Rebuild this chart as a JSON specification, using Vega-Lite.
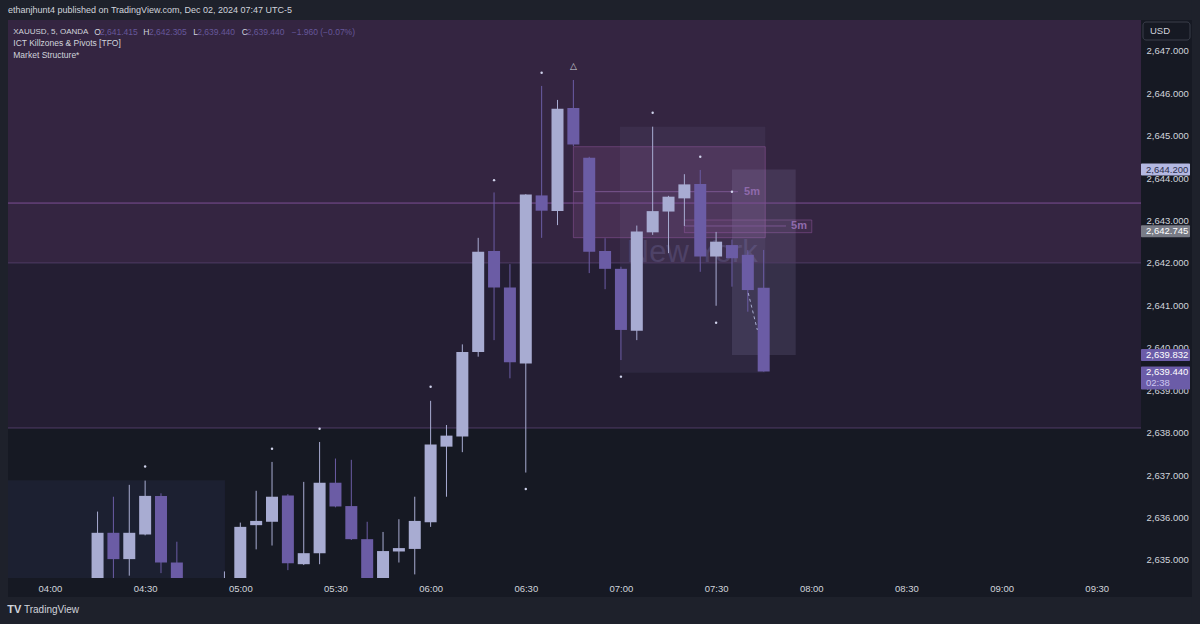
{
  "$schema": "https://vega.github.io/schema/vega-lite/v6.json",
  "width": 1133,
  "height": 558,
  "autosize": "none",
  "padding": {"left": 8, "top": 20, "right": 59, "bottom": 46},
  "background": "#161923",
  "config": {"view": {"stroke": null}, "font": "Liberation Sans"},
  "datasets": {
    "frame": [
      {"t1": "2024-12-02T03:40:00Z", "t2": "2024-12-02T10:10:00Z", "p1": 2647.7234, "p2": 2649.0},
      {"t1": "2024-12-02T03:40:00Z", "t2": "2024-12-02T10:10:00Z", "p1": 2633.0, "p2": 2634.128},
      {"t1": "2024-12-02T03:40:00Z", "t2": "2024-12-02T03:46:46Z", "p1": 2633.0, "p2": 2649.0},
      {"t1": "2024-12-02T10:00:00Z", "t2": "2024-12-02T10:10:00Z", "p1": 2633.0, "p2": 2649.0}
    ],
    "regions": [
      {"name": "upper", "p1": 2642.0, "p2": 2649.0},
      {"name": "mid", "p1": 2638.11, "p2": 2642.0}
    ],
    "boxes": [
      {"name": "asia", "t1": "2024-12-02T03:30:00Z", "t2": "2024-12-02T04:55:10Z", "p1": 2630.0, "p2": 2636.88},
      {"name": "ny", "t1": "2024-12-02T06:59:42Z", "t2": "2024-12-02T07:45:30Z", "p1": 2639.41, "p2": 2645.21},
      {"name": "pink", "t1": "2024-12-02T06:45:00Z", "t2": "2024-12-02T07:45:30Z", "p1": 2642.594, "p2": 2644.738},
      {"name": "fvg", "t1": "2024-12-02T07:20:00Z", "t2": "2024-12-02T08:00:10Z", "p1": 2642.712, "p2": 2643.011},
      {"name": "grey", "t1": "2024-12-02T07:35:00Z", "t2": "2024-12-02T07:55:05Z", "p1": 2639.832, "p2": 2644.2}
    ],
    "hlines": [
      {"name": "pivot", "p": 2643.41},
      {"name": "edge", "p": 2642.0},
      {"name": "edge", "p": 2638.11}
    ],
    "segments": [
      {"t1": "2024-12-02T06:45:00Z", "t2": "2024-12-02T07:36:54Z", "p": 2643.678},
      {"t1": "2024-12-02T07:20:00Z", "t2": "2024-12-02T07:52:02Z", "p": 2642.87}
    ],
    "seglabels": [
      {"t": "2024-12-02T07:41:19Z", "p": 2643.678, "text": "5m"},
      {"t": "2024-12-02T07:56:08Z", "p": 2642.87, "text": "5m"}
    ],
    "candles": [
      {"t": "2024-12-02T04:15:00Z", "o": 2634.40, "h": 2636.14, "l": 2634.30, "c": 2635.64},
      {"t": "2024-12-02T04:20:00Z", "o": 2635.64, "h": 2636.49, "l": 2634.55, "c": 2635.02},
      {"t": "2024-12-02T04:25:00Z", "o": 2635.02, "h": 2636.77, "l": 2634.63, "c": 2635.64},
      {"t": "2024-12-02T04:30:00Z", "o": 2635.60, "h": 2636.87, "l": 2635.58, "c": 2636.51},
      {"t": "2024-12-02T04:35:00Z", "o": 2636.51, "h": 2636.57, "l": 2634.69, "c": 2634.94},
      {"t": "2024-12-02T04:40:00Z", "o": 2634.94, "h": 2635.43, "l": 2634.20, "c": 2634.30},
      {"t": "2024-12-02T04:45:00Z", "o": 2634.30, "h": 2634.45, "l": 2633.60, "c": 2633.80},
      {"t": "2024-12-02T04:50:00Z", "o": 2633.80, "h": 2634.40, "l": 2633.50, "c": 2634.20},
      {"t": "2024-12-02T04:55:00Z", "o": 2634.20, "h": 2634.73, "l": 2634.00, "c": 2634.40},
      {"t": "2024-12-02T05:00:00Z", "o": 2634.40, "h": 2635.88, "l": 2634.30, "c": 2635.78},
      {"t": "2024-12-02T05:05:00Z", "o": 2635.82, "h": 2636.63, "l": 2635.25, "c": 2635.92},
      {"t": "2024-12-02T05:10:00Z", "o": 2635.90, "h": 2637.31, "l": 2635.34, "c": 2636.49},
      {"t": "2024-12-02T05:15:00Z", "o": 2636.52, "h": 2636.55, "l": 2634.76, "c": 2634.92},
      {"t": "2024-12-02T05:20:00Z", "o": 2634.90, "h": 2636.84, "l": 2634.88, "c": 2635.16},
      {"t": "2024-12-02T05:25:00Z", "o": 2635.16, "h": 2637.78, "l": 2634.90, "c": 2636.82},
      {"t": "2024-12-02T05:30:00Z", "o": 2636.82, "h": 2637.39, "l": 2636.24, "c": 2636.26},
      {"t": "2024-12-02T05:35:00Z", "o": 2636.27, "h": 2637.36, "l": 2635.47, "c": 2635.49},
      {"t": "2024-12-02T05:40:00Z", "o": 2635.49, "h": 2635.90, "l": 2634.40, "c": 2634.50},
      {"t": "2024-12-02T05:45:00Z", "o": 2634.50, "h": 2635.66, "l": 2634.40, "c": 2635.21},
      {"t": "2024-12-02T05:50:00Z", "o": 2635.20, "h": 2635.96, "l": 2634.94, "c": 2635.28},
      {"t": "2024-12-02T05:55:00Z", "o": 2635.26, "h": 2636.49, "l": 2634.66, "c": 2635.92},
      {"t": "2024-12-02T06:00:00Z", "o": 2635.89, "h": 2638.75, "l": 2635.78, "c": 2637.72},
      {"t": "2024-12-02T06:05:00Z", "o": 2637.67, "h": 2638.18, "l": 2636.49, "c": 2637.93},
      {"t": "2024-12-02T06:10:00Z", "o": 2637.91, "h": 2640.08, "l": 2637.54, "c": 2639.90},
      {"t": "2024-12-02T06:15:00Z", "o": 2639.90, "h": 2642.59, "l": 2639.79, "c": 2642.26},
      {"t": "2024-12-02T06:20:00Z", "o": 2642.28, "h": 2643.66, "l": 2640.18, "c": 2641.42},
      {"t": "2024-12-02T06:25:00Z", "o": 2641.42, "h": 2641.97, "l": 2639.28, "c": 2639.66},
      {"t": "2024-12-02T06:30:00Z", "o": 2639.63, "h": 2643.62, "l": 2637.06, "c": 2643.61},
      {"t": "2024-12-02T06:35:00Z", "o": 2643.59, "h": 2646.17, "l": 2642.59, "c": 2643.23},
      {"t": "2024-12-02T06:40:00Z", "o": 2643.22, "h": 2645.84, "l": 2642.89, "c": 2645.63},
      {"t": "2024-12-02T06:45:00Z", "o": 2645.65, "h": 2646.31, "l": 2644.75, "c": 2644.79},
      {"t": "2024-12-02T06:50:00Z", "o": 2644.48, "h": 2644.50, "l": 2641.76, "c": 2642.26},
      {"t": "2024-12-02T06:55:00Z", "o": 2642.28, "h": 2642.58, "l": 2641.38, "c": 2641.86},
      {"t": "2024-12-02T07:00:00Z", "o": 2641.86, "h": 2641.91, "l": 2639.71, "c": 2640.42},
      {"t": "2024-12-02T07:05:00Z", "o": 2640.40, "h": 2642.88, "l": 2640.18, "c": 2642.74},
      {"t": "2024-12-02T07:10:00Z", "o": 2642.72, "h": 2645.21, "l": 2642.66, "c": 2643.22},
      {"t": "2024-12-02T07:15:00Z", "o": 2643.21, "h": 2643.58, "l": 2642.23, "c": 2643.56},
      {"t": "2024-12-02T07:20:00Z", "o": 2643.52, "h": 2644.09, "l": 2642.87, "c": 2643.85},
      {"t": "2024-12-02T07:25:00Z", "o": 2643.86, "h": 2644.19, "l": 2641.79, "c": 2642.15},
      {"t": "2024-12-02T07:30:00Z", "o": 2642.15, "h": 2642.73, "l": 2640.99, "c": 2642.50},
      {"t": "2024-12-02T07:35:00Z", "o": 2642.42, "h": 2642.55, "l": 2641.44, "c": 2642.11},
      {"t": "2024-12-02T07:40:00Z", "o": 2642.19, "h": 2642.30, "l": 2640.85, "c": 2641.36},
      {"t": "2024-12-02T07:45:00Z", "o": 2641.415, "h": 2642.305, "l": 2639.44, "c": 2639.44}
    ],
    "pivots": [
      {"t": "2024-12-02T04:30:00Z", "p": 2637.20},
      {"t": "2024-12-02T05:10:00Z", "p": 2637.62},
      {"t": "2024-12-02T05:25:00Z", "p": 2638.09},
      {"t": "2024-12-02T06:00:00Z", "p": 2639.08},
      {"t": "2024-12-02T06:20:00Z", "p": 2643.95},
      {"t": "2024-12-02T06:30:00Z", "p": 2636.67},
      {"t": "2024-12-02T06:35:00Z", "p": 2646.48},
      {"t": "2024-12-02T07:00:00Z", "p": 2639.32},
      {"t": "2024-12-02T07:10:00Z", "p": 2645.54},
      {"t": "2024-12-02T07:25:00Z", "p": 2644.50},
      {"t": "2024-12-02T07:30:00Z", "p": 2640.59},
      {"t": "2024-12-02T07:35:00Z", "p": 2643.678}
    ],
    "ms": [
      {"t1": "2024-12-02T07:40:08Z", "t2": "2024-12-02T07:43:00Z", "p1": 2641.29, "p2": 2640.42}
    ],
    "tags": [
      {"kind": "hi", "p": 2644.2},
      {"kind": "grey", "p": 2642.745},
      {"kind": "purple", "p": 2639.832},
      {"kind": "last", "p": 2639.29}
    ],
    "tagtexts": [
      {"kind": "hi", "p": 2644.2, "text": "2,644.200"},
      {"kind": "white", "p": 2642.745, "text": "2,642.745"},
      {"kind": "white", "p": 2639.832, "text": "2,639.832"},
      {"kind": "white", "p": 2639.418, "text": "2,639.440"},
      {"kind": "dim", "p": 2639.159, "text": "02:38"}
    ],
    "notes": [
      {"t": "2024-12-02T03:46:46Z", "p": 2647.959, "text": "ethanjhunt4 published on TradingView.com, Dec 02, 2024 07:47 UTC-5", "kind": "hdr"},
      {"t": "2024-12-02T03:48:26Z", "p": 2647.448, "text": "XAUUSD, 5, OANDA", "kind": "sym"},
      {"t": "2024-12-02T04:13:58Z", "p": 2647.448, "text": "O", "kind": "name"},
      {"t": "2024-12-02T04:15:46Z", "p": 2647.448, "text": "2,641.415", "kind": "val"},
      {"t": "2024-12-02T04:29:25Z", "p": 2647.448, "text": "H", "kind": "name"},
      {"t": "2024-12-02T04:31:13Z", "p": 2647.448, "text": "2,642.305", "kind": "val"},
      {"t": "2024-12-02T04:45:11Z", "p": 2647.448, "text": "L", "kind": "name"},
      {"t": "2024-12-02T04:46:26Z", "p": 2647.448, "text": "2,639.440", "kind": "val"},
      {"t": "2024-12-02T05:00:26Z", "p": 2647.448, "text": "C", "kind": "name"},
      {"t": "2024-12-02T05:02:01Z", "p": 2647.448, "text": "2,639.440", "kind": "val"},
      {"t": "2024-12-02T05:16:12Z", "p": 2647.448, "text": "−1.960 (−0.07%)", "kind": "val"},
      {"t": "2024-12-02T03:48:26Z", "p": 2647.174, "text": "ICT Killzones & Pivots [TFO]", "kind": "name"},
      {"t": "2024-12-02T03:48:26Z", "p": 2646.899, "text": "Market Structure*", "kind": "name"}
    ]
  },
  "layer": [
    {
      "data": {"name": "frame"},
      "mark": {"type": "rect", "clip": false, "color": "#1e212b"},
      "encoding": {
        "x": {
          "field": "t1", "type": "temporal",
          "scale": {"type": "utc", "domain": [
            {"year": 2024, "month": 12, "date": 2, "hours": 3, "minutes": 46, "seconds": 46, "utc": true},
            {"year": 2024, "month": 12, "date": 2, "hours": 9, "minutes": 43, "seconds": 57, "utc": true}
          ], "nice": false, "padding": 0},
          "axis": {
            "title": null, "format": "%H:%M", "grid": false, "domain": false, "ticks": false, "tickSize": 0,
            "labelPadding": 5, "labelBaseline": "top", "labelFontSize": 9.5, "labelColor": "#d1d4dc",
            "labelFont": "Liberation Sans", "labelFlush": false, "labelOverlap": false,
            "values": [
              {"year": 2024, "month": 12, "date": 2, "hours": 4, "minutes": 0, "utc": true},
              {"year": 2024, "month": 12, "date": 2, "hours": 4, "minutes": 30, "utc": true},
              {"year": 2024, "month": 12, "date": 2, "hours": 5, "minutes": 0, "utc": true},
              {"year": 2024, "month": 12, "date": 2, "hours": 5, "minutes": 30, "utc": true},
              {"year": 2024, "month": 12, "date": 2, "hours": 6, "minutes": 0, "utc": true},
              {"year": 2024, "month": 12, "date": 2, "hours": 6, "minutes": 30, "utc": true},
              {"year": 2024, "month": 12, "date": 2, "hours": 7, "minutes": 0, "utc": true},
              {"year": 2024, "month": 12, "date": 2, "hours": 7, "minutes": 30, "utc": true},
              {"year": 2024, "month": 12, "date": 2, "hours": 8, "minutes": 0, "utc": true},
              {"year": 2024, "month": 12, "date": 2, "hours": 8, "minutes": 30, "utc": true},
              {"year": 2024, "month": 12, "date": 2, "hours": 9, "minutes": 0, "utc": true},
              {"year": 2024, "month": 12, "date": 2, "hours": 9, "minutes": 30, "utc": true}
            ]
          }
        },
        "x2": {"field": "t2"},
        "y": {
          "field": "p1", "type": "quantitative",
          "scale": {"domain": [2634.575, 2647.7234], "zero": false, "nice": false, "padding": 0},
          "axis": {
            "orient": "right", "title": null, "format": ",.3f", "grid": false, "domain": false, "ticks": false, "tickSize": 0,
            "labelPadding": 5, "labelFontSize": 9.5, "labelColor": "#d1d4dc", "labelFont": "Liberation Sans",
            "labelFlush": false, "labelOverlap": false,
            "values": [2635, 2636, 2637, 2638, 2639, 2640, 2641, 2642, 2643, 2644, 2645, 2646, 2647]
          }
        },
        "y2": {"field": "p2"}
      }
    },
    {
      "data": {"name": "regions"},
      "mark": {"type": "rect", "clip": true},
      "encoding": {
        "y": {"field": "p1", "type": "quantitative"},
        "y2": {"field": "p2"},
        "color": {"condition": {"test": "datum.name === 'upper'", "value": "#342541"}, "value": "#241e33"}
      }
    },
    {
      "data": {"name": "boxes"},
      "mark": {"type": "rect", "clip": true, "strokeWidth": 1},
      "encoding": {
        "x": {"field": "t1", "type": "temporal"},
        "x2": {"field": "t2"},
        "y": {"field": "p1", "type": "quantitative"},
        "y2": {"field": "p2"},
        "fill": {"condition": [
          {"test": "datum.name === 'asia'", "value": "#1c2031"},
          {"test": "datum.name === 'ny'", "value": "#a09cd8"},
          {"test": "datum.name === 'grey'", "value": "#aaa6d4"}
        ], "value": "#c070c0"},
        "fillOpacity": {"condition": [
          {"test": "datum.name === 'asia'", "value": 1},
          {"test": "datum.name === 'ny'", "value": 0.08},
          {"test": "datum.name === 'grey'", "value": 0.14},
          {"test": "datum.name === 'fvg'", "value": 0.08}
        ], "value": 0.14},
        "stroke": {"condition": [
          {"test": "datum.name === 'pink' || datum.name === 'fvg'", "value": "#9a5aa6"}
        ], "value": null},
        "strokeOpacity": {"value": 0.45}
      }
    },
    {
      "data": {"values": [{"label": "New York"}]},
      "mark": {"type": "text", "clip": true, "align": "center", "baseline": "alphabetic", "fontSize": 31, "color": "#8d88c8", "opacity": 0.22, "font": "Liberation Sans"},
      "encoding": {
        "x": {"datum": {"year": 2024, "month": 12, "date": 2, "hours": 7, "minutes": 22, "seconds": 30, "utc": true}, "type": "temporal"},
        "y": {"datum": 2642.021, "type": "quantitative"},
        "text": {"field": "label"}
      }
    },
    {
      "data": {"name": "hlines"},
      "mark": {"type": "rule", "clip": true, "strokeWidth": 1},
      "encoding": {
        "y": {"field": "p", "type": "quantitative"},
        "color": {"condition": {"test": "datum.name === 'pivot'", "value": "#7d4f95"}, "value": "#4e3b64"}
      }
    },
    {
      "data": {"name": "segments"},
      "mark": {"type": "rule", "clip": true, "strokeWidth": 1, "color": "#7a5690"},
      "encoding": {
        "x": {"field": "t1", "type": "temporal"},
        "x2": {"field": "t2"},
        "y": {"field": "p", "type": "quantitative"}
      }
    },
    {
      "data": {"name": "seglabels"},
      "mark": {"type": "text", "clip": true, "align": "center", "baseline": "middle", "fontSize": 11, "fontWeight": "bold", "color": "#8f6aab", "font": "Liberation Sans"},
      "encoding": {
        "x": {"field": "t", "type": "temporal"},
        "y": {"field": "p", "type": "quantitative"},
        "text": {"field": "text"}
      }
    },
    {
      "data": {"name": "candles"},
      "mark": {"type": "rule", "clip": true, "strokeWidth": 1},
      "encoding": {
        "x": {"field": "t", "type": "temporal"},
        "y": {"field": "l", "type": "quantitative"},
        "y2": {"field": "h"},
        "color": {"condition": {"test": "datum.c >= datum.o", "value": "#a8acd2"}, "value": "#6b5ca5"}
      }
    },
    {
      "data": {"name": "candles"},
      "mark": {"type": "bar", "clip": true, "size": 12},
      "encoding": {
        "x": {"field": "t", "type": "temporal"},
        "y": {"field": "o", "type": "quantitative"},
        "y2": {"field": "c"},
        "color": {"condition": {"test": "datum.c >= datum.o", "value": "#a8acd2"}, "value": "#6b5ca5"}
      }
    },
    {
      "data": {"name": "ms"},
      "mark": {"type": "rule", "clip": true, "strokeWidth": 1, "strokeDash": [3, 3], "color": "#a8acd2"},
      "encoding": {
        "x": {"field": "t1", "type": "temporal"},
        "x2": {"field": "t2"},
        "y": {"field": "p1", "type": "quantitative"},
        "y2": {"field": "p2"}
      }
    },
    {
      "data": {"name": "pivots"},
      "mark": {"type": "point", "clip": true, "shape": "circle", "filled": true, "size": 6, "color": "#cfd2ea", "opacity": 1},
      "encoding": {
        "x": {"field": "t", "type": "temporal"},
        "y": {"field": "p", "type": "quantitative"}
      }
    },
    {
      "data": {"values": [{"label": "△"}]},
      "mark": {"type": "text", "clip": true, "align": "center", "baseline": "middle", "fontSize": 9, "color": "#d1d4dc", "font": "DejaVu Sans"},
      "encoding": {
        "x": {"datum": {"year": 2024, "month": 12, "date": 2, "hours": 6, "minutes": 45, "utc": true}, "type": "temporal"},
        "y": {"datum": 2646.65, "type": "quantitative"},
        "text": {"field": "label"}
      }
    },
    {
      "data": {"name": "tags"},
      "mark": {"type": "bar", "clip": false, "orient": "horizontal", "cornerRadius": 1},
      "encoding": {
        "x": {"datum": {"year": 2024, "month": 12, "date": 2, "hours": 9, "minutes": 43, "seconds": 57, "utc": true}, "type": "temporal"},
        "x2": {"datum": {"year": 2024, "month": 12, "date": 2, "hours": 9, "minutes": 59, "seconds": 24, "utc": true}},
        "y": {"field": "p", "type": "quantitative"},
        "size": {"condition": {"test": "datum.kind === 'last'", "value": 23}, "value": 12},
        "color": {"condition": [
          {"test": "datum.kind === 'hi'", "value": "#b4b8e2"},
          {"test": "datum.kind === 'grey'", "value": "#787b86"}
        ], "value": "#6b5ca8"}
      }
    },
    {
      "data": {"name": "tagtexts"},
      "mark": {"type": "text", "clip": false, "align": "left", "baseline": "middle", "fontSize": 9.5, "font": "Liberation Sans"},
      "encoding": {
        "x": {"datum": {"year": 2024, "month": 12, "date": 2, "hours": 9, "minutes": 45, "seconds": 31, "utc": true}, "type": "temporal"},
        "y": {"field": "p", "type": "quantitative"},
        "text": {"field": "text"},
        "color": {"condition": [
          {"test": "datum.kind === 'hi'", "value": "#2a2e4c"},
          {"test": "datum.kind === 'dim'", "value": "#cdc6f0"}
        ], "value": "#ffffff"}
      }
    },
    {
      "data": {"values": [{"label": "USD"}]},
      "mark": {"type": "rect", "clip": false, "fill": "#161923", "stroke": "#3a3e4a", "strokeWidth": 1, "cornerRadius": 3},
      "encoding": {
        "x": {"datum": {"year": 2024, "month": 12, "date": 2, "hours": 9, "minutes": 44, "seconds": 35, "utc": true}, "type": "temporal"},
        "x2": {"datum": {"year": 2024, "month": 12, "date": 2, "hours": 9, "minutes": 59, "seconds": 24, "utc": true}},
        "y": {"datum": 2647.676, "type": "quantitative"},
        "y2": {"datum": 2647.252}
      }
    },
    {
      "data": {"values": [{"label": "USD"}]},
      "mark": {"type": "text", "clip": false, "align": "left", "baseline": "middle", "fontSize": 9.5, "color": "#d1d4dc", "font": "Liberation Sans"},
      "encoding": {
        "x": {"datum": {"year": 2024, "month": 12, "date": 2, "hours": 9, "minutes": 46, "seconds": 47, "utc": true}, "type": "temporal"},
        "y": {"datum": 2647.464, "type": "quantitative"},
        "text": {"field": "label"}
      }
    },
    {
      "data": {"name": "notes"},
      "mark": {"type": "text", "clip": false, "align": "left", "baseline": "middle", "font": "Liberation Sans"},
      "encoding": {
        "x": {"field": "t", "type": "temporal"},
        "y": {"field": "p", "type": "quantitative"},
        "text": {"field": "text"},
        "size": {"condition": [
          {"test": "datum.kind === 'hdr'", "value": 9},
          {"test": "datum.kind === 'sym'", "value": 8}
        ], "value": 8.5},
        "color": {"condition": {"test": "datum.kind === 'val'", "value": "#66579a"}, "value": "#d1d4dc"}
      }
    },
    {
      "data": {"values": [{"label": "TV"}]},
      "mark": {"type": "text", "clip": false, "align": "left", "baseline": "middle", "font": "Liberation Sans", "fontSize": 11, "fontWeight": "bold", "color": "#d1d4dc"},
      "encoding": {
        "x": {"datum": {"year": 2024, "month": 12, "date": 2, "hours": 3, "minutes": 46, "seconds": 32, "utc": true}, "type": "temporal"},
        "y": {"datum": 2633.822, "type": "quantitative"},
        "text": {"field": "label"}
      }
    },
    {
      "data": {"values": [{"label": "TradingView"}]},
      "mark": {"type": "text", "clip": false, "align": "left", "baseline": "middle", "font": "Liberation Sans", "fontSize": 10, "color": "#d1d4dc"},
      "encoding": {
        "x": {"datum": {"year": 2024, "month": 12, "date": 2, "hours": 3, "minutes": 51, "seconds": 48, "utc": true}, "type": "temporal"},
        "y": {"datum": 2633.822, "type": "quantitative"},
        "text": {"field": "label"}
      }
    }
  ]
}
